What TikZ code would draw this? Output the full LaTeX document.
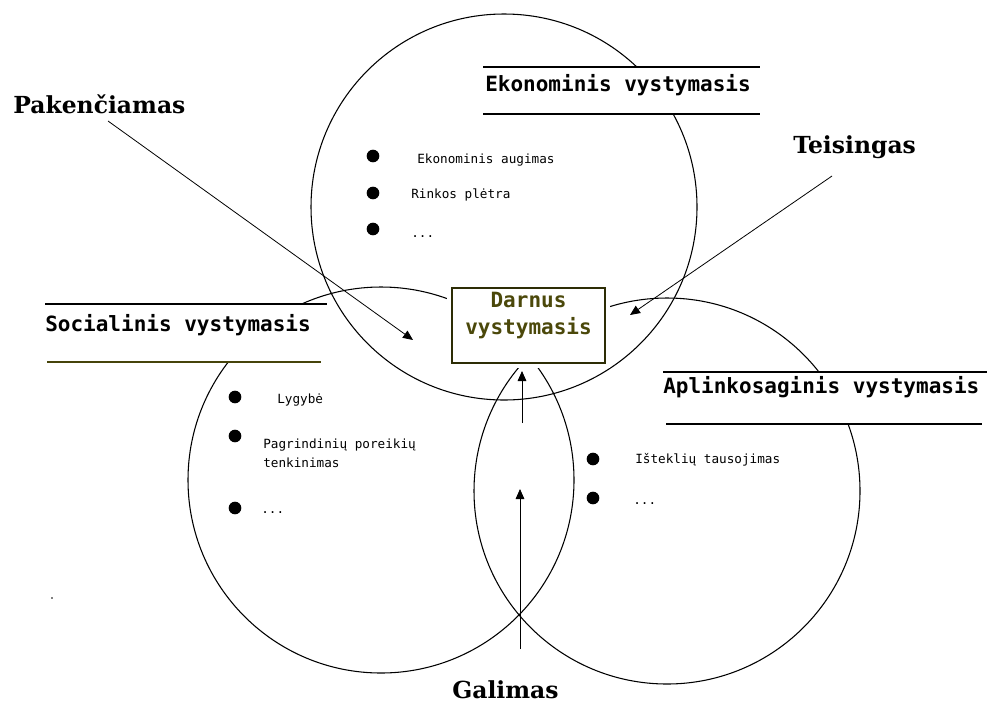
\documentclass[tikz,border=0pt]{standalone}
\usepackage{fontspec}
\setmainfont{DejaVu Serif}
\newfontfamily\monofam{DejaVu Sans Mono}
\newfontfamily\seriffam{DejaVu Serif}
\usetikzlibrary{arrows.meta}
\definecolor{olivebox}{RGB}{45,45,5}
\definecolor{olivetxt}{RGB}{75,72,10}
\definecolor{oliveline}{RGB}{70,68,10}
\begin{document}
\begin{tikzpicture}[x=0.75pt,y=-0.75pt,
  ring/.style={draw=black, line width=0.8pt},
  titletxt/.style={font=\monofam\bfseries\fontsize{15.75}{18}\selectfont, anchor=base west, inner sep=0pt},
  itemtxt/.style={font=\monofam\fontsize{9.5}{11}\selectfont, anchor=base west, inner sep=0pt},
  labeltxt/.style={font=\seriffam\bfseries\fontsize{17.6}{20}\selectfont, anchor=base west, inner sep=0pt},
  bulletdot/.style={circle, fill=black, inner sep=0pt, minimum size=9.5pt},
  arr/.style={-{Triangle[width=6.5pt,length=7.5pt]}, line width=0.6pt},
  rulel/.style={line width=1pt},
  darnusbox/.style={draw=olivebox, line width=1.6pt, fill=white,
    preaction={draw=white, line width=7pt},
    minimum width=114.75pt, minimum height=56.25pt, inner sep=0pt},
  darnustxt/.style={anchor=base, inner sep=0pt, text=olivetxt,
    font=\monofam\bfseries\fontsize{15.75}{21}\selectfont}
]
\useasboundingbox (0,0) rectangle (987,704);
\fill[white] (0,0) rectangle (987,704);

% circles
\draw[ring] (504,207) circle[radius=144.75pt];
\draw[ring] (381,480) circle[radius=144.75pt];
\draw[ring] (667,491) circle[radius=144.75pt];

% title blocks
\fill[white] (483,66) rectangle (763,115);
\draw[rulel] (483,67) -- (760,67);
\draw[rulel] (483,114) -- (760,114);
\node[titletxt] (ekt) at (485,91) {Ekonominis vystymasis};

\fill[white] (45,303) rectangle (330,363);
\draw[rulel] (45,304) -- (327,304);
\draw[rulel, draw=oliveline] (47,362) -- (321,362);
\node[titletxt] (sot) at (45,331) {Socialinis vystymasis};

\fill[white] (663,371) rectangle (987,425);
\draw[rulel] (663,372) -- (987,372);
\draw[rulel] (666,424) -- (982,424);
\node[titletxt] (apt) at (663,393) {Aplinkosaginis vystymasis};

% central box
\node[darnusbox] (darnus) at (528.5,325.5) {};
\node[darnustxt] (darnus1) at (528.5,307) {Darnus};
\node[darnustxt] (darnus2) at (528.5,334) {vystymasis};

% bullets top
\node[bulletdot] (b1) at (373,156) {};
\node[bulletdot] (b2) at (373,193) {};
\node[bulletdot] (b3) at (373,229) {};
\node[itemtxt] (t1) at (417,163) {Ekonominis augimas};
\node[itemtxt] (t2) at (411,198) {Rinkos plėtra};
\node[itemtxt] (t3) at (411,237) {...};

% bullets left
\node[bulletdot] (b4) at (235,397) {};
\node[bulletdot] (b5) at (235,436) {};
\node[bulletdot] (b6) at (235,508) {};
\node[itemtxt] (t4) at (277,403) {Lygybė};
\node[itemtxt] (t5) at (263,448) {Pagrindinių poreikių};
\node[itemtxt] (t5b) at (263,467) {tenkinimas};
\node[itemtxt] (t6) at (261,513) {...};

% bullets right
\node[bulletdot] (b7) at (593,459) {};
\node[bulletdot] (b8) at (593,498) {};
\node[itemtxt] (t7) at (635,463) {Išteklių tausojimas};
\node[itemtxt] (t8) at (633,504) {...};

% labels
\node[labeltxt] (pak) at (13,113) {Pakenčiamas};
\node[labeltxt] (tei) at (793,153) {Teisingas};
\node[labeltxt] (gal) at (452,698) {Galimas};

% arrow end points
\coordinate (pakS) at (108,121);
\coordinate (pakE) at (413,340);
\coordinate (teiS) at (832,176);
\coordinate (teiE) at (630,315);
\coordinate (upS) at (522,423);
\coordinate (upE) at (522,371);
\coordinate (galS) at (520,649);
\coordinate (galE) at (520,489);

\draw[arr] (pakS) -- (pakE);
\draw[arr] (teiS) -- (teiE);
\draw[arr] (upS) -- (upE);
\draw[arr] (galS) -- (galE);

% stray dot
\fill[gray] (51,597) rectangle (53,599);
\end{tikzpicture}
\end{document}
